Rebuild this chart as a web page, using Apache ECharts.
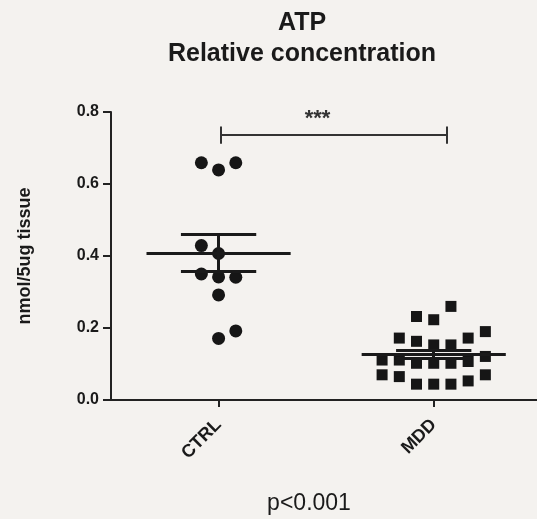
<!DOCTYPE html>
<html>
<head>
<meta charset="utf-8">
<script src="https://cdn.jsdelivr.net/npm/echarts@6/dist/echarts.min.js"></script>
<style>
html, body { margin: 0; padding: 0; background: #f4f2ef; }
#chart { width: 537px; height: 519px; }
</style>
</head>
<body>
<div id="chart"></div>
<script>
// 分组及数据
var groups = ['CTRL', 'MDD'];
var ctrlValues = [0.659, 0.659, 0.639, 0.429, 0.407, 0.350, 0.342, 0.341, 0.292, 0.192, 0.171];
var ctrlOffsets = [-0.08, 0.08, 0, -0.08, 0, -0.08, 0, 0.08, 0, 0.08, 0];
var mddValues = [0.260, 0.232, 0.223, 0.172, 0.163, 0.153, 0.153, 0.172, 0.190, 0.121, 0.111, 0.111,
	0.102, 0.102, 0.102, 0.107, 0.070, 0.065, 0.044, 0.044, 0.044, 0.053, 0.070];
var mddOffsets = [0.08, -0.08, 0, -0.16, -0.08, 0, 0.08, 0.16, 0.24, 0.24, -0.24, -0.16,
	-0.08, 0, 0.08, 0.16, -0.24, -0.16, -0.08, 0, 0.08, 0.16, 0.24];
var groupMeans = [0.409, 0.127];
var groupSems = [0.052, 0.010];
var yTicks = [0, 0.2, 0.4, 0.6, 0.8];
var sigText = '***';
var pText = 'p<0.001';

var FONT = '"Liberation Sans", Arial, sans-serif';
var INK = '#161616';
var MEAN_HALF = 0.335;
var SEM_HALF = 0.175;

function points(values, offsets, idx) {
	return values.map(function(v, i) {
		return [idx + offsets[i], v];
	});
}

//均值及标准误线
function meanBars(i) {
	var m = groupMeans[i], s = groupSems[i];
	return [
		[{ coord: [i - MEAN_HALF, m] }, { coord: [i + MEAN_HALF, m] }],
		[{ coord: [i - SEM_HALF, m + s] }, { coord: [i + SEM_HALF, m + s] }],
		[{ coord: [i - SEM_HALF, m - s] }, { coord: [i + SEM_HALF, m - s] }],
		[{ coord: [i, m - s] }, { coord: [i, m + s] }]
	];
}

// 显著性括号
var bracketY = 0.736, bracketCap = 0.024, bracketX = [0.01, 1.06];
var bracket = [
	[{ coord: [bracketX[0], bracketY] }, { coord: [bracketX[1], bracketY] }],
	[{ coord: [bracketX[0], bracketY - bracketCap] }, { coord: [bracketX[0], bracketY + bracketCap] }],
	[{ coord: [bracketX[1], bracketY - bracketCap] }, { coord: [bracketX[1], bracketY + bracketCap] }]
];

var chart = echarts.init(document.getElementById('chart'));
chart.setOption({
	animation: false,
	backgroundColor: '#f4f2ef',
	title: [{
		text: 'ATP\nRelative concentration',
		left: 297,
		top: 3,
		textAlign: 'center',
		textStyle: { fontFamily: FONT, fontSize: 25, fontWeight: 'bold', color: '#1a1a1a', lineHeight: 31 }
	}, {
		text: pText,
		left: 304,
		top: 487,
		textAlign: 'center',
		textStyle: { fontFamily: FONT, fontSize: 23, fontWeight: 'normal', color: '#1a1a1a' }
	}],
	grid: { left: 111, right: 0, top: 112, bottom: 119 },
	xAxis: {
		type: 'value',
		min: -0.5,
		max: 1.48,
		splitLine: { show: false },
		axisLine: { onZero: false, lineStyle: { color: '#222', width: 2 } },
		axisTick: { customValues: [0, 1], length: 7, lineStyle: { color: '#222', width: 2 } },
		axisLabel: {
			customValues: [0, 1],
			rotate: 45,
			margin: 22,
			fontFamily: FONT,
			fontSize: 18,
			fontWeight: 'bold',
			color: '#1a1a1a',
			formatter: function(v) { return groups[Math.round(v)] || ''; }
		}
	},
	yAxis: {
		type: 'value',
		min: yTicks[0],
		max: yTicks[yTicks.length - 1],
		interval: 0.2,
		name: 'nmol/5ug tissue',
		nameLocation: 'middle',
		nameGap: 77,
		nameTextStyle: { fontFamily: FONT, fontSize: 18, fontWeight: 'bold', color: '#1a1a1a' },
		splitLine: { show: false },
		axisLine: { show: true, onZero: false, lineStyle: { color: '#222', width: 2 } },
		axisTick: { show: true, length: 8, lineStyle: { color: '#222', width: 2 } },
		axisLabel: {
			margin: 12,
			fontFamily: FONT,
			fontSize: 16,
			fontWeight: 'bold',
			color: '#1a1a1a',
			formatter: function(v) { return v.toFixed(1); }
		}
	},
	series: [{
		name: 'CTRL',
		type: 'scatter',
		symbol: 'circle',
		symbolSize: 13,
		itemStyle: { color: INK, opacity: 1 },
		data: points(ctrlValues, ctrlOffsets, 0),
		z: 2
	}, {
		name: 'MDD',
		type: 'scatter',
		symbol: 'rect',
		symbolSize: 11,
		itemStyle: { color: INK, opacity: 1 },
		data: points(mddValues, mddOffsets, 1),
		z: 2
	}, {
		name: 'bars',
		type: 'scatter',
		data: [],
		z: 5,
		markLine: {
			silent: true,
			symbol: ['none', 'none'],
			label: { show: false },
			lineStyle: { color: '#1a1a1a', width: 3, type: 'solid', opacity: 1 },
			emphasis: { disabled: true },
			data: meanBars(0).concat(meanBars(1))
		}
	}, {
		name: 'sig',
		type: 'scatter',
		data: [],
		markLine: {
			silent: true,
			symbol: ['none', 'none'],
			label: { show: false },
			lineStyle: { color: '#333', width: 2, type: 'solid', opacity: 1 },
			emphasis: { disabled: true },
			data: bracket
		},
		markPoint: {
			silent: true,
			symbol: 'circle',
			symbolSize: 1,
			itemStyle: { color: 'rgba(0,0,0,0)' },
			label: {
				show: true,
				position: 'inside',
				formatter: sigText,
				fontFamily: FONT,
				fontSize: 22,
				fontWeight: 'bold',
				color: '#333'
			},
			data: [{ coord: [0.46, 0.78] }]
		}
	}]
});
</script>
</body>
</html>
